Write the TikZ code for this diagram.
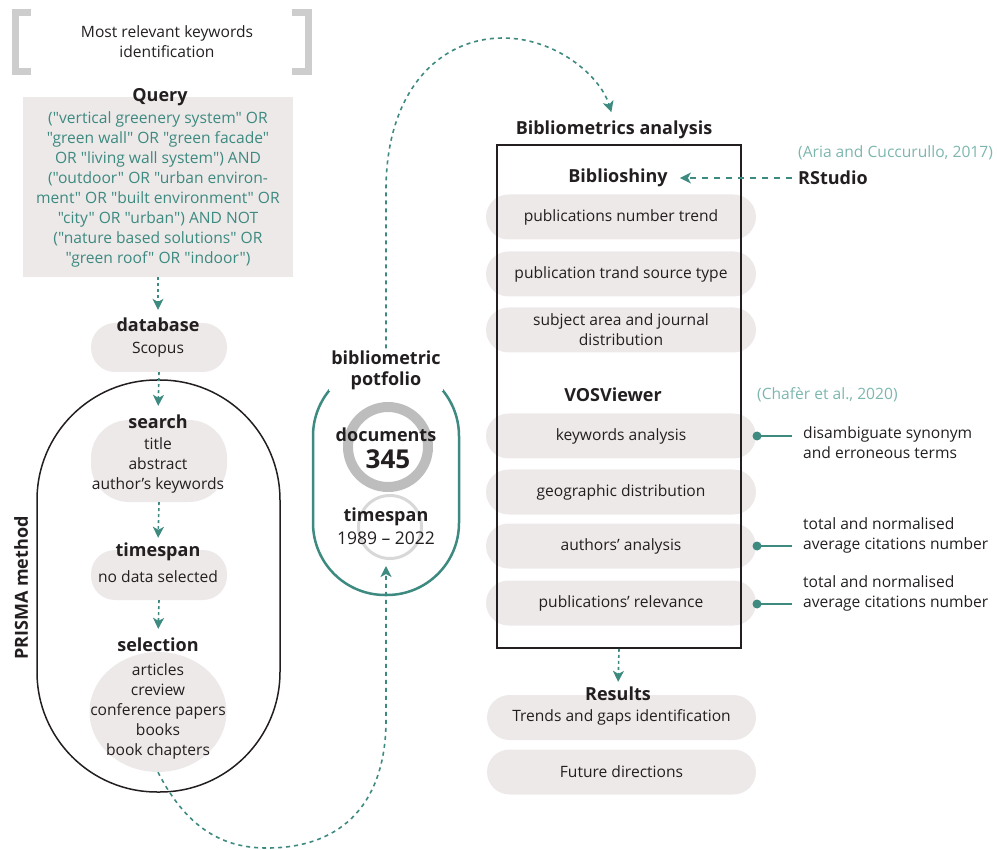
\documentclass[tikz,border=0pt]{standalone}
\usepackage{fontspec}
\setmainfont{Open Sans}[Ligatures=TeXOff]
\usetikzlibrary{arrows.meta,shapes.geometric,calc}

\definecolor{ink}{HTML}{231F20}
\definecolor{flowteal}{HTML}{3D8A80}
\definecolor{citeteal}{HTML}{7DB6AE}
\definecolor{pillgrey}{HTML}{EDE9E9}
\definecolor{bracketgrey}{HTML}{CDCDCD}
\definecolor{ringgrey}{HTML}{BDBDBD}
\definecolor{ringlight}{HTML}{D8D8D8}

\begin{document}
\begin{tikzpicture}[x=1pt,y=-1pt,
  base/.style={text=ink, align=center, inner sep=0pt, font=\fontsize{15.6}{20}\selectfont},
  head/.style={base, font=\bfseries\fontsize{18}{21}\selectfont},
  pill/.style={base, fill=pillgrey, rounded corners=22.5pt, minimum width=270pt, minimum height=45pt},
  note/.style={base, align=left, anchor=west},
  cite/.style={base, text=citeteal, anchor=west},
  flow/.style={draw=flowteal, line width=1.6pt, dash pattern=on 3pt off 3pt,
    -{Stealth[length=11pt,width=11pt,inset=3pt]}},
  bracket/.style={draw=bracketgrey, line width=7pt},
  bullet/.style={circle, fill=flowteal, minimum size=9pt, inner sep=0pt}]

\useasboundingbox (0,0) rectangle (997,850);

% ---------- keyword identification header ----------
\draw[bracket] (31,12.5) -- (15.5,12.5) -- (15.5,71.5) -- (31,71.5);
\draw[bracket] (292,12.5) -- (308.5,12.5) -- (308.5,71.5) -- (292,71.5);
\node[base] (kw) at (167,42) {Most relevant keywords\\identification};

% ---------- query ----------
\node[fill=pillgrey, minimum width=270pt, minimum height=180pt, inner sep=0pt] (qbox) at (158,187) {};
\node[head] (qhead) at (160,97) {Query};
\node[base, text=flowteal] (qtext) at (158,189) {("vertical greenery system" OR\\
"green wall" OR "green facade"\\
OR "living wall system") AND\\
("outdoor" OR "urban environ-\\
ment" OR "built environment" OR\\
"city" OR "urban") AND NOT\\
("nature based solutions" OR\\
"green roof" OR "indoor")};

% ---------- PRISMA steps ----------
\node[draw=ink, line width=1.5pt, rounded corners=120pt, minimum width=243pt,
      minimum height=412pt, inner sep=0pt] (prisma) at (158.5,586) {};
\node[head, rotate=90] (prismalabel) at (21,588) {PRISMA method};

\node[pill, minimum width=136pt, minimum height=49pt, rounded corners=24pt] (dbpill) at (159,347.5) {};
\node[head] (dbhead) at (158,325) {database};
\node[base] (dbtext) at (158,350) {Scopus};

\node[pill, minimum width=136pt, minimum height=82pt, rounded corners=38pt] (srpill) at (159,461) {};
\node[head] (srhead) at (158,422) {search};
\node[base] (srtext) at (158,465) {title\\abstract\\author’s keywords};

\node[pill, minimum width=136pt, minimum height=50pt, rounded corners=24pt] (tspill) at (159,575) {};
\node[head] (tshead) at (158,552) {timespan};
\node[base] (tstext) at (158,577) {no data selected};

\node[ellipse, fill=pillgrey, minimum width=137pt, minimum height=120pt, inner sep=0pt] (sel) at (158,712) {};
\node[head] (selhead) at (158,645) {selection};
\node[base] (seltext) at (158,711) {articles\\creview\\conference papers\\books\\book chapters};

% ---------- bibliometric portfolio ----------
\node[draw=flowteal, line width=2.5pt, rounded corners=72pt, minimum width=146pt,
      minimum height=231pt, inner sep=0pt] (port) at (386,479.5) {};
\node[circle, draw=ringgrey, line width=10pt, minimum size=80pt, inner sep=0pt] (ringbig) at (388,447) {};
\node[circle, draw=ringlight, line width=3pt, minimum size=63pt, inner sep=0pt] (ringsmall) at (390,527) {};
\node[head, fill=white, inner sep=2pt] (porthead) at (386,370) {bibliometric\\potfolio};
\node[head] (docs) at (386,435) {documents};
\node[base, font=\bfseries\fontsize{26}{28}\selectfont] (docnum) at (388,459) {345};
\node[head] (pspan) at (386,517) {timespan};
\node[base, font=\fontsize{17.5}{20}\selectfont] (years) at (386,538) {1989 – 2022};
\coordinate (portentry) at (386,566);

% ---------- bibliometrics analysis ----------
\node[head] (bibtitle) at (614,130) {Bibliometrics analysis};
\node[pill] (p1) at (621,217) {publications number trend};
\node[pill] (p2) at (621,274) {publication trand source type};
\node[pill] (p3) at (621,330) {subject area and journal\\distribution};
\node[pill] (p4) at (621,436) {keywords analysis};
\node[pill] (p5) at (621,492) {geographic distribution};
\node[pill] (p6) at (621,546) {authors’ analysis};
\node[pill] (p7) at (621,603) {publications’ relevance};
\node[draw=ink, line width=1.8pt, minimum width=244pt, minimum height=503pt, inner sep=0pt] (box) at (619,396.5) {};
\node[head] (shiny) at (618,178) {Biblioshiny};
\node[head] (vos) at (613,395) {VOSViewer};

\node[head, anchor=west] (rstudio) at (798,178) {RStudio};
\node[cite] (aria) at (798,153) {(Aria and Cuccurullo, 2017)};
\node[cite] (chafer) at (757,395) {(Chafèr et al., 2020)};

\node[bullet] (d1) at (757,436) {};
\node[bullet] (d2) at (757,546) {};
\node[bullet] (d3) at (757,604) {};
\node[note] (n1) at (803,443) {disambiguate synonym\\and erroneous terms};
\node[note] (n2) at (803,535.5) {total and normalised\\average citations number};
\node[note] (n3) at (803,593.5) {total and normalised\\average citations number};
\draw[flowteal, line width=1.5pt, shorten >=11pt] (d1.center) -- (d1 -| n1.west);
\draw[flowteal, line width=1.5pt, shorten >=11pt] (d2.center) -- (d2 -| n2.west);
\draw[flowteal, line width=1.5pt, shorten >=11pt] (d3.center) -- (d3 -| n3.west);

% ---------- results ----------
\node[pill, minimum width=269pt] (r1) at (621.5,717.5) {Trends and gaps identification};
\node[pill, minimum width=269pt] (r2) at (621.5,772) {Future directions};
\node[head] (reshead) at (618,694) {Results};

% ---------- connectors ----------
\draw[flow, shorten >=8pt] (qbox.south) -- (dbhead.north);
\draw[flow, shorten >=9pt] (dbpill.south) -- (srhead.north);
\draw[flow, shorten >=5pt] (srpill.south) -- (tshead.north);
\draw[flow, shorten >=9pt] (tspill.south) -- (selhead.north);
\draw[flow, dash pattern=on 4pt off 4pt] (sel.south) .. controls (190,835) and (230,848) .. (267,848)
  .. controls (345,848) and (386,800) .. (386,720) -- (port.south) -- (portentry);
\draw[flow, dash pattern=on 4pt off 4pt, shorten >=9pt] (porthead.north) -- (386,190)
  .. controls (386,90) and (440,38) .. (503,38)
  .. controls (555,38) and (600,75) .. (bibtitle.north);
\draw[flow, dash pattern=on 6pt off 6pt, shorten <=6pt, shorten >=12pt] (rstudio.west) -- (shiny.east);
\draw[flow, shorten >=5pt] (box.south) -- (reshead.north);

\end{tikzpicture}
\end{document}
